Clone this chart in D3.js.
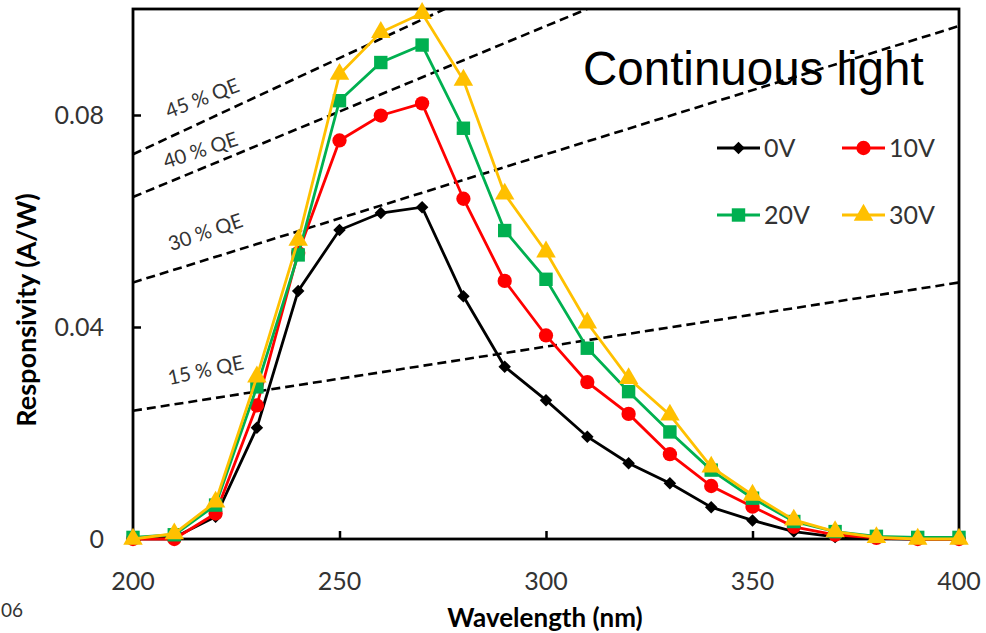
<!DOCTYPE html>
<html>
<head>
<meta charset="utf-8">
<script src="https://cdn.jsdelivr.net/npm/d3@7"></script>
<style>
  body { margin: 0; background: #fff; }
  svg { display: block; }
  .tick-label { font-family: Lato, "Open Sans", sans-serif; font-size: 25px; fill: #333; }
  .axis-title { font-family: Lato, "Open Sans", sans-serif; font-size: 26px; font-weight: bold; fill: #000; }
  .qe-label { font-family: Lato, "Open Sans", sans-serif; font-size: 20px; fill: #333; }
  .legend-text { font-family: Lato, "Open Sans", sans-serif; font-size: 25px; fill: #333; }
</style>
</head>
<body>
<svg id="chart" width="986" height="633"></svg>
<script>
// data
let wavelength = [200, 210, 220, 230, 240, 250, 260, 270, 280, 290, 300,
                  310, 320, 330, 340, 350, 360, 370, 380, 390, 400]
let resp0V  = [0.0001, 0.0003, 0.0042, 0.0210, 0.0468, 0.0583, 0.0615, 0.0626, 0.0458, 0.0325, 0.0262,
               0.0193, 0.0143, 0.0105, 0.0060, 0.0035, 0.0014, 0.0004, 0.0001, 0.0000, 0.0000]
let resp10V = [0.0000, 0.0000, 0.0048, 0.0252, 0.0540, 0.0752, 0.0799, 0.0822, 0.0642, 0.0487, 0.0384,
               0.0296, 0.0236, 0.0160, 0.0100, 0.0061, 0.0023, 0.0008, 0.0002, 0.0000, 0.0000]
let resp20V = [0.0003, 0.0008, 0.0064, 0.0287, 0.0536, 0.0827, 0.0899, 0.0932, 0.0775, 0.0582, 0.0490,
               0.0360, 0.0278, 0.0202, 0.0130, 0.0077, 0.0033, 0.0014, 0.0005, 0.0003, 0.0003]
let resp30V = [0.0000, 0.0010, 0.0070, 0.0306, 0.0564, 0.0877, 0.0956, 0.0992, 0.0866, 0.0651, 0.0542,
               0.0408, 0.0303, 0.0234, 0.0136, 0.0083, 0.0036, 0.0014, 0.0003, 0.0000, 0.0000]

let seriesNames = ["0V", "10V", "20V", "30V"]
let seriesValues = [resp0V, resp10V, resp20V, resp30V]
let seriesColors = ["#000000", "#ff0000", "#00b050", "#ffc000"]
let seriesMarkers = ["diamond", "circle", "square", "triangle"]

let xTicks = [200, 250, 300, 350, 400]
let yTicks = [0, 0.04, 0.08]

// constant quantum efficiency lines, R = QE * lambda / 1239.84
let qeValues = [0.45, 0.40, 0.30, 0.15]
let qeLabels = ["45 % QE", "40 % QE", "30 % QE", "15 % QE"]

let svg = d3.select("#chart")
let plotLeft = 133, plotRight = 959, plotTop = 9, plotBottom = 539

let xScale = d3.scaleLinear().domain([200, 400]).range([plotLeft, plotRight])
let yScale = d3.scaleLinear().domain([0, 0.1]).range([plotBottom, plotTop])

svg.append("defs").append("clipPath").attr("id", "plotclip")
    .append("rect")
    .attr("x", plotLeft).attr("y", plotTop)
    .attr("width", plotRight - plotLeft).attr("height", plotBottom - plotTop)

// title text sits under the dashed lines
svg.append("text")
    .attr("x", 583).attr("y", 85)
    .style("font-family", "'Liberation Sans', Arial, sans-serif")
    .style("font-size", "47.5px")
    .attr("fill", "#000")
    .text("Continuous light")

// QE lines
let qeGroup = svg.append("g").attr("clip-path", "url(#plotclip)")
qeValues.forEach(function (q) {
    let r = function (w) { return q * w / 1239.84 }
    qeGroup.append("line")
        .attr("x1", xScale(200)).attr("y1", yScale(r(200)))
        .attr("x2", xScale(400)).attr("y2", yScale(r(400)))
        .attr("stroke", "#000")
        .attr("stroke-width", 2.6)
        .attr("stroke-dasharray", "9,5")
})

let qeLabelPos = [[203, 100, -21], [201, 152, -18], [206, 234, -19], [206, 372, -12]]
qeLabels.forEach(function (d, i) {
    svg.append("text")
        .attr("class", "qe-label")
        .attr("text-anchor", "middle")
        .attr("dominant-baseline", "middle")
        .attr("transform", `translate(${qeLabelPos[i][0]},${qeLabelPos[i][1]}) rotate(${qeLabelPos[i][2]})`)
        .text(d)
})

// axes
let xAxis = d3.axisBottom(xScale).tickValues(xTicks).tickSize(-8).tickFormat("")
let yAxis = d3.axisLeft(yScale).tickValues(yTicks).tickSize(-8).tickFormat("")

let gx = svg.append("g").attr("transform", `translate(0,${plotBottom})`).call(xAxis)
let gy = svg.append("g").attr("transform", `translate(${plotLeft},0)`).call(yAxis)
gx.select(".domain").remove()
gy.select(".domain").remove()
svg.selectAll(".tick line").attr("stroke", "#000").attr("stroke-width", 2.5)

svg.append("rect")
    .attr("x", plotLeft).attr("y", plotTop)
    .attr("width", plotRight - plotLeft).attr("height", plotBottom - plotTop)
    .attr("fill", "none").attr("stroke", "#000").attr("stroke-width", 2.8)

xTicks.forEach(function (t) {
    svg.append("text").attr("class", "tick-label")
        .attr("x", xScale(t)).attr("y", 590)
        .attr("text-anchor", "middle")
        .text(t)
})
yTicks.forEach(function (t) {
    svg.append("text").attr("class", "tick-label")
        .attr("x", 104).attr("y", yScale(t) + 9)
        .attr("text-anchor", "end")
        .text(t === 0 ? "0" : d3.format(".2f")(t))
})

svg.append("text").attr("class", "axis-title")
    .attr("x", 545).attr("y", 627)
    .attr("text-anchor", "middle")
    .text("Wavelength (nm)")

svg.append("g")
    .attr("transform", `translate(36,310) rotate(270)`)
    .append("text").attr("class", "axis-title")
    .style("font-size", "27px")
    .attr("text-anchor", "middle")
    .text("Responsivity (A/W)")

svg.append("text").attr("class", "tick-label")
    .attr("x", 1).attr("y", 617)
    .style("font-size", "19px")
    .text("06")

// markers
function markerPath(type) {
    if (type === "diamond") return d3.symbol().type(d3.symbolDiamond2).size(100)()
    if (type === "circle") return d3.symbol().type(d3.symbolCircle).size(160)()
    if (type === "square") return d3.symbol().type(d3.symbolSquare).size(180)()
    return d3.symbol().type(d3.symbolTriangle).size(165)()
}

let line = d3.line()
    .x(function (d, i) { return xScale(wavelength[i]) })
    .y(function (d) { return yScale(d) })

seriesValues.forEach(function (vals, s) {
    let g = svg.append("g")
    g.append("path")
        .attr("d", line(vals))
        .attr("fill", "none")
        .attr("stroke", seriesColors[s])
        .attr("stroke-width", 2.8)
    g.selectAll(".marker")
        .data(vals)
        .enter()
        .append("path")
        .attr("transform", function (d, i) {
            return `translate(${xScale(wavelength[i])}, ${yScale(d)})`})
        .attr("d", markerPath(seriesMarkers[s]))
        .attr("fill", seriesColors[s])
})

// legend
let legendPos = [[717, 148], [842, 148], [717, 215], [842, 215]]
seriesNames.forEach(function (d, i) {
    let lgnd = svg.append("g").attr("transform", `translate(${legendPos[i][0]},${legendPos[i][1]})`)
    lgnd.append("line")
        .attr("x1", 0).attr("x2", 43)
        .attr("stroke", seriesColors[i]).attr("stroke-width", 2.8)
    lgnd.append("path")
        .attr("transform", "translate(21.5,0)")
        .attr("d", markerPath(seriesMarkers[i]))
        .attr("fill", seriesColors[i])
    lgnd.append("text").attr("class", "legend-text")
        .attr("x", 47).attr("y", 9)
        .text(d)
})
</script>
</body>
</html>
